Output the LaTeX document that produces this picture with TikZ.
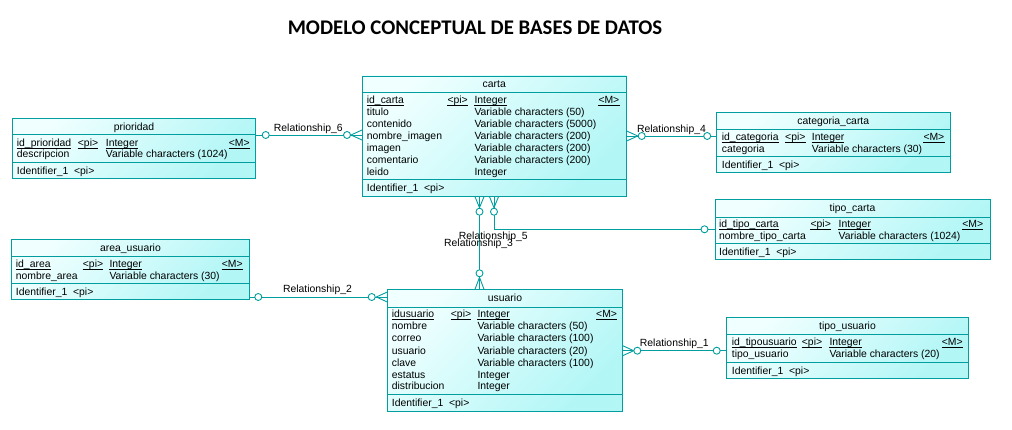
\documentclass[tikz,border=0pt]{standalone}
\usepackage{fontspec}
\setmainfont{Liberation Sans}
\newfontfamily\titlefont{Carlito}
\usetikzlibrary{calc}
\definecolor{ln}{RGB}{0,158,158}
\definecolor{fl}{RGB}{240,255,255}
\definecolor{fd}{RGB}{178,246,246}
\newcounter{tn}
\newcommand\tx[3]{\stepcounter{tn}\edef\nm{t\arabic{tn}}\node[txt] (\nm) at (#1,#2) {#3};}
\newcommand\kx[3]{\stepcounter{tn}\edef\nm{t\arabic{tn}}\node[txt] (\nm) at (#1,#2) {#3};
  \draw[ulin] ([yshift=-1.8pt]\nm.base west) -- ([yshift=-1.8pt]\nm.base east);}
\newcommand\entity[7]{%
  \node[ent, anchor=north west, minimum width={(#4-#2)*1pt}, minimum height={(#5-#3)*1pt}] (#1) at (#2,#3) {};
  \draw[sepl] (#1.west |- 0,#6) -- (#1.east |- 0,#6);
  \draw[sepl] (#1.west |- 0,#7) -- (#1.east |- 0,#7);}
\newcommand\ttx[4]{\node[hd] (#1-t) at (#2,#3) {#4};}
\newcommand\crowfoot[3]{\draw[rl] ($(#1)+(#2)$) -- ($(#1)+(#3)$) ($(#1)+(#2)$) -- ($(#1)-(#3)$);}
\begin{document}
\begin{tikzpicture}[x=1pt,y=-1pt,
  ent/.style={draw=ln, line width=0.9pt, top color=fl, bottom color=fd, shading angle=45, inner sep=0pt, outer sep=0pt},
  sepl/.style={draw=ln, line width=0.9pt},
  rl/.style={draw=ln, line width=0.9pt},
  ulin/.style={draw=black, line width=0.6pt},
  txt/.style={anchor=base west, inner sep=0pt, yshift=-3.6pt, font=\fontsize{10.4}{12}\selectfont},
  hd/.style={anchor=base, inner sep=0pt, yshift=-3.6pt, font=\fontsize{10.4}{12}\selectfont},
  lb/.style={inner sep=0pt, font=\fontsize{10.4}{12}\selectfont},
  ci/.style={circle, draw=ln, fill=white, line width=0.9pt, minimum size=7pt, inner sep=0pt},
  ttl/.style={inner sep=0pt, font=\titlefont\bfseries\fontsize{20.8}{24}\selectfont}]
\fill[white] (0,0) rectangle (1012,430);
\useasboundingbox (0,0) rectangle (1012,430);

\node[ttl] (title) at (475,28) {MODELO CONCEPTUAL DE BASES DE DATOS};

% carta
\entity{carta}{362}{76}{626.7}{196.7}{92}{179.3}
\ttx{carta}{494.3}{84.3}{carta}
\kx{366.7}{99.8}{id\_carta}\kx{447.3}{99.8}{<pi>}\kx{474.3}{99.8}{Integer}\kx{598.3}{99.8}{<M>}
\tx{366.7}{111.7}{titulo}\tx{474.3}{111.7}{Variable characters (50)}
\tx{366.7}{123.5}{contenido}\tx{474.3}{123.5}{Variable characters (5000)}
\tx{366.7}{135.5}{nombre\_imagen}\tx{474.3}{135.5}{Variable characters (200)}
\tx{366.7}{147.8}{imagen}\tx{474.3}{147.8}{Variable characters (200)}
\tx{366.7}{160}{comentario}\tx{474.3}{160}{Variable characters (200)}
\tx{366.7}{172.3}{leido}\tx{474.3}{172.3}{Integer}
\tx{366.7}{188.3}{Identifier\_1\ \ <pi>}

% prioridad
\entity{prioridad}{12.3}{118.3}{255.7}{178.3}{134.3}{162.3}
\ttx{prioridad}{134}{126.7}{prioridad}
\kx{16.7}{142.7}{id\_prioridad}\kx{77.7}{142.7}{<pi>}\kx{105.7}{142.7}{Integer}\kx{228.7}{142.7}{<M>}
\tx{16.7}{154.3}{descripcion}\tx{105.7}{154.3}{Variable characters (1024)}
\tx{16.7}{170.7}{Identifier\_1\ \ <pi>}

% categoria_carta
\entity{catcarta}{716.7}{112.7}{950}{172.3}{129.3}{156.7}
\ttx{catcarta}{833.3}{120.7}{categoria\_carta}
\kx{721.7}{137.3}{id\_categoria}\kx{785}{137.3}{<pi>}\kx{811.7}{137.3}{Integer}\kx{923.3}{137.3}{<M>}
\tx{721.7}{148.7}{categoria}\tx{811.7}{148.7}{Variable characters (30)}
\tx{721.7}{165}{Identifier\_1\ \ <pi>}

% tipo_carta
\entity{tipocarta}{715}{199.3}{990}{259.3}{217.7}{243.3}
\ttx{tipocarta}{852.5}{208.3}{tipo\_carta}
\kx{718.9}{224}{id\_tipo\_carta}\kx{810.4}{224}{<pi>}\kx{838.4}{224}{Integer}\kx{962.2}{224}{<M>}
\tx{718.9}{235.7}{nombre\_tipo\_carta}\tx{838.4}{235.7}{Variable characters (1024)}
\tx{718.9}{251.7}{Identifier\_1\ \ <pi>}

% area_usuario
\entity{areausuario}{11.7}{239.3}{249.3}{299.3}{256.7}{283.3}
\ttx{areausuario}{130.5}{248.3}{area\_usuario}
\kx{15.7}{264}{id\_area}\kx{82.7}{264}{<pi>}\kx{109.3}{264}{Integer}\kx{221.7}{264}{<M>}
\tx{15.7}{276}{nombre\_area}\tx{109.3}{276}{Variable characters (30)}
\tx{15.7}{291.7}{Identifier\_1\ \ <pi>}

% usuario
\entity{usuario}{387.3}{289.3}{622.7}{411}{307.3}{394}
\ttx{usuario}{505}{298.3}{usuario}
\kx{391.7}{314}{idusuario}\kx{450.7}{314}{<pi>}\kx{477.3}{314}{Integer}\kx{596}{314}{<M>}
\tx{391.7}{326.3}{nombre}\tx{477.3}{326.3}{Variable characters (50)}
\tx{391.7}{338}{correo}\tx{477.3}{338}{Variable characters (100)}
\tx{391.7}{350.7}{usuario}\tx{477.3}{350.7}{Variable characters (20)}
\tx{391.7}{363}{clave}\tx{477.3}{363}{Variable characters (100)}
\tx{391.7}{375}{estatus}\tx{477.3}{375}{Integer}
\tx{391.7}{386.3}{distribucion}\tx{477.3}{386.3}{Integer}
\tx{391.7}{402.7}{Identifier\_1\ \ <pi>}

% tipo_usuario
\entity{tipousuario}{726.7}{317.3}{968.3}{378.3}{334}{362.3}
\ttx{tipousuario}{847.5}{325.7}{tipo\_usuario}
\kx{731.7}{342.3}{id\_tipousuario}\kx{801.7}{342.3}{<pi>}\kx{829.3}{342.3}{Integer}\kx{941.7}{342.3}{<M>}
\tx{731.7}{354.3}{tipo\_usuario}\tx{829.3}{354.3}{Variable characters (20)}
\tx{731.7}{370.7}{Identifier\_1\ \ <pi>}

% Relationship_6
\coordinate (r6a) at (prioridad.east |- 0,135);
\coordinate (r6b) at (carta.west |- 0,135);
\draw[rl] (r6a) -- (r6b);
\crowfoot{r6b}{-11,0}{0,5}
\node[ci] (r6c1) at ($(r6a)+(10,0)$) {};
\node[ci] (r6c2) at ($(r6b)+(-15,0)$) {};
\node[lb] (r6l) at (308.3,129.3) {Relationship\_6};

% Relationship_4
\coordinate (r4a) at (carta.east |- 0,136);
\coordinate (r4b) at (catcarta.west |- 0,136);
\draw[rl] (r4a) -- (r4b);
\crowfoot{r4a}{11,0}{0,5}
\node[ci] (r4c1) at ($(r4a)+(15,0)$) {};
\node[ci] (r4c2) at ($(r4b)+(-9.5,0)$) {};
\node[lb] (r4l) at (671.5,130) {Relationship\_4};

% Relationship_5
\coordinate (r5a) at (carta.south -| 494,0);
\coordinate (r5b) at (tipocarta.west |- 0,229.3);
\draw[rl] (r5a) |- (r5b);
\crowfoot{r5a}{0,11}{4.5,0}
\node[ci] (r5c1) at ($(r5a)+(0,15)$) {};
\node[ci] (r5c2) at ($(r5b)+(-10.5,0)$) {};

% Relationship_3
\coordinate (r3a) at (carta.south -| 479.5,0);
\coordinate (r3b) at (usuario.north -| 479.5,0);
\draw[rl] (r3a) -- (r3b);
\crowfoot{r3a}{0,11}{4.5,0}
\crowfoot{r3b}{0,-12}{4.5,0}
\node[ci] (r3c1) at ($(r3a)+(0,15)$) {};
\node[ci] (r3c2) at ($(r3b)+(0,-16)$) {};
\node[lb] (r5l) at (493.3,236.7) {Relationship\_5};
\node[lb] (r3l) at (478.6,244) {Relationship\_3};

% Relationship_2
\coordinate (r2a) at (areausuario.east |- 0,297);
\coordinate (r2b) at (usuario.west |- 0,297);
\draw[rl] (r2a) -- (r2b);
\crowfoot{r2b}{-11,0}{0,5}
\node[ci] (r2c1) at ($(r2a)+(9,0)$) {};
\node[ci] (r2c2) at ($(r2b)+(-15.6,0)$) {};
\node[lb] (r2l) at (317.5,290) {Relationship\_2};

% Relationship_1
\coordinate (r1a) at (usuario.east |- 0,350.7);
\coordinate (r1b) at (tipousuario.west |- 0,350.7);
\draw[rl] (r1a) -- (r1b);
\crowfoot{r1a}{11,0}{0,5}
\node[ci] (r1c1) at ($(r1a)+(14.6,0)$) {};
\node[ci] (r1c2) at ($(r1b)+(-10,0)$) {};
\node[lb] (r1l) at (674.3,344) {Relationship\_1};
\end{tikzpicture}
\end{document}
